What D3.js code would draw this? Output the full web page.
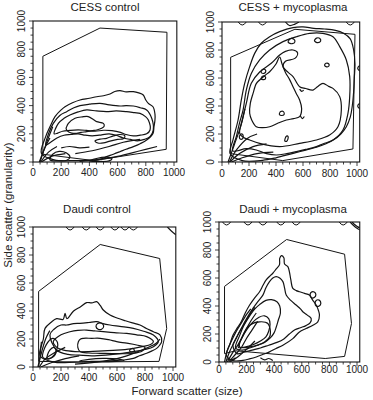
<!DOCTYPE html>
<html><head><meta charset="utf-8">
<script src="https://cdn.jsdelivr.net/npm/d3@7"></script>
<style>body{margin:0;background:#fff}svg{display:block}</style>
</head><body>
<svg id="c" width="373" height="400"></svg>
<script>
// ---------- data ----------
const titles = ["CESS control", "CESS + mycoplasma", "Daudi control", "Daudi + mycoplasma"];
const xTicks = [0, 200, 400, 600, 800, 1000];
const yTicks = [0, 200, 400, 600, 800, 1000];
const minorTicks = d3.range(0, 1001, 50);
const xLabel = "Forward scatter (size)";
const yLabel = "Side scatter (granularity)";

// gates (polygons, data units)
const gateCessControl = [[70,750],[475,950],[950,920],[945,90],[430,10],[70,55]];
const gateCessMyco    = [[64,748],[540,948],[985,912],[970,93],[450,10],[64,60]];
const gateDaudiControl= [[40,540],[480,875],[905,775],[955,275],[900,40],[360,35],[40,40]];
const gateDaudiMyco   = [[40,540],[490,875],[910,770],[960,275],[910,40],[770,25],[120,80],[40,60]];

// closed contours
const contoursCessControl = [
  [[60,60],[90,180],[121,251],[156,322],[200,370],[227,392],[280,420],[333,440],[400,452],[452,463],[500,470],[546,482],[580,500],[617,506],[660,498],[712,499],[750,490],[782,475],[800,440],[818,416],[851,392],[865,340],[865,298],[858,250],[851,203],[806,156],[760,130],[712,109],[660,90],[617,73],[570,55],[522,38],[470,18],[300,10],[150,15]],
  [[90,120],[110,200],[144,274],[190,330],[239,357],[290,385],[333,400],[400,410],[475,416],[540,405],[617,397],[660,400],[712,397],[760,385],[806,369],[842,310],[853,227],[830,180],[790,160],[740,150],[690,160],[640,170],[590,190],[540,200],[470,190],[420,185],[370,190],[320,200],[270,195],[220,190],[170,170],[125,140]],
  [[150,200],[180,274],[220,310],[262,333],[320,355],[381,369],[450,362],[520,357],[590,362],[664,357],[720,350],[759,345],[800,320],[818,298],[830,227],[806,200],[760,190],[712,185],[660,195],[620,210],[560,222],[500,225],[440,218],[380,224],[320,228],[260,224],[210,218],[175,205]],
  [[239,251],[251,274],[298,310],[350,320],[392,322],[430,300],[452,286],[499,274],[505,255],[487,239],[452,227],[420,222],[381,215],[340,210],[310,203],[275,205],[251,215],[235,235]],
  [[440,150],[475,162],[522,168],[570,185],[617,195],[652,185],[640,165],[600,160],[546,148],[500,135],[460,135]],
  [[120,15],[140,55],[185,75],[235,65],[262,35],[240,12],[180,8]],
  [[400,8],[450,25],[520,35],[560,25],[540,8],[470,4]]
];
const linesCessControl = [
  [[45,0],[80,90],[120,170]],
  [[55,0],[110,70],[170,110]],
  [[60,0],[130,40],[230,60]],
  [[50,0],[90,120],[140,250]],
  [[200,100],[260,110],[330,100],[400,105]],
  [[300,60],[420,80],[540,110],[640,140],[760,160]],
  [[330,5],[450,15],[600,40],[760,80],[880,110]]
];

const contoursCessMyco = [
  [[60,60],[81,157],[119,300],[143,443],[168,562],[205,681],[242,776],[291,848],[353,895],[427,931],[526,960],[600,965],[680,955],[760,950],[840,940],[900,920],[950,880],[975,800],[985,700],[980,600],[975,500],[965,400],[950,320],[920,250],[880,200],[830,160],[770,130],[700,105],[620,85],[540,65],[460,45],[400,30],[300,12],[150,10]],
  [[80,80],[106,181],[130,280],[156,371],[180,514],[217,633],[279,729],[353,800],[452,860],[551,895],[649,919],[748,919],[822,895],[872,824],[921,729],[946,610],[946,467],[933,348],[896,229],[822,157],[750,130],[699,110],[620,90],[551,74],[480,60],[402,50],[330,60],[254,86],[180,95]],
  [[131,205],[150,300],[180,419],[217,562],[279,643],[365,705],[427,764],[470,790],[526,800],[560,780],[540,740],[470,720],[452,681],[490,640],[526,610],[575,538],[620,525],[674,514],[710,540],[748,562],[790,540],[822,526],[872,467],[884,371],[859,252],[797,193],[699,157],[575,133],[427,110],[279,133],[205,157],[160,175]],
  [[230,490],[254,560],[279,586],[320,620],[353,645],[400,700],[427,750],[445,700],[470,640],[500,590],[526,538],[550,490],[575,443],[590,380],[575,324],[530,310],[477,300],[420,280],[353,252],[300,245],[254,252],[220,300],[205,348],[210,420]],
  [[490,855],[505,880],[530,878],[540,858],[520,845]],
  [[685,865],[700,885],[725,882],[730,862],[710,852]],
  [[760,690],[770,705],[790,702],[792,686],[775,680]],
  [[290,640],[300,660],[320,660],[322,640],[305,632]],
  [[290,595],[300,612],[320,610],[320,592],[305,588]],
  [[425,340],[435,360],[455,360],[460,340],[442,332]],
  [[130,170],[135,195],[152,198],[156,172],[142,162]],
  [[465,150],[478,185],[490,180],[480,148]]
];
const linesCessMyco = [
  [[45,0],[90,120],[140,260],[170,380]],
  [[55,0],[110,90],[190,170],[260,200]],
  [[60,0],[130,60],[230,110],[330,130]],
  [[70,0],[150,30],[260,60],[380,70]],
  [[575,520],[590,505],[605,512]],
  [[580,330],[595,310],[610,325]],
  [[470,1000],[500,975],[540,985],[570,1000]],
  [[1020,690],[1005,670],[1020,650]],
  [[1020,420],[1005,400],[1020,380]]
];

const contoursDaudiControl = [
  [[50,80],[74,200],[86,276],[130,320],[169,345],[215,340],[229,383],[242,345],[290,400],[340,430],[383,460],[420,458],[455,467],[480,440],[502,407],[550,371],[600,350],[660,330],[710,315],[764,300],[810,275],[860,252],[907,229],[919,181],[900,150],[883,133],[850,115],[812,98],[760,80],[717,62],[650,50],[580,45],[500,40],[420,40],[300,35],[150,35]],
  [[121,229],[150,270],[200,300],[240,300],[290,310],[336,312],[400,318],[455,324],[500,310],[550,300],[620,290],[717,276],[790,255],[860,229],[895,181],[860,145],[800,125],[717,110],[620,95],[520,85],[420,80],[330,85],[250,90],[170,120]],
  [[145,181],[200,230],[264,252],[320,262],[383,264],[440,258],[502,252],[580,245],[669,240],[740,230],[812,217],[860,181],[840,160],[780,145],[700,130],[600,120],[500,115],[400,110],[300,110],[220,120],[170,140]],
  [[324,181],[340,200],[360,205],[420,205],[479,205],[540,195],[598,181],[670,170],[740,157],[800,140],[780,115],[717,98],[600,95],[479,98],[400,100],[336,110],[320,140]],
  [[450,290],[462,310],[490,312],[505,292],[490,270],[465,270]],
  [[690,115],[700,130],[720,128],[722,112],[705,106]],
  [[70,70],[95,160],[140,205],[175,175],[160,100],[115,60]],
  [[100,60],[120,120],[150,140],[165,110],[140,70]],
  [[330,42],[400,55],[500,62],[600,58],[650,45],[500,38]]
];
const linesDaudiControl = [
  [[35,0],[60,100],[90,200],[120,260]],
  [[45,0],[90,60],[150,100],[230,140]],
  [[55,0],[130,30],[230,60],[330,80]],
  [[40,0],[50,80],[60,180]],
  [[300,20],[450,35],[600,60],[750,110],[880,170],[907,200]],
  [[960,1000],[990,970],[1020,945]]
];

const contoursDaudiMyco = [
  [[53,48],[80,130],[101,191],[130,240],[161,287],[190,350],[222,407],[260,460],[294,502],[320,550],[342,586],[370,615],[390,634],[415,665],[438,694],[440,740],[452,760],[470,745],[475,700],[500,680],[511,640],[520,590],[535,526],[560,510],[583,502],[620,490],[655,478],[680,440],[704,407],[720,370],[728,335],[716,287],[680,263],[631,239],[583,215],[535,167],[463,120],[410,95],[366,72],[320,55],[270,36],[220,22],[173,12],[100,10]],
  [[101,120],[130,180],[161,239],[200,310],[246,383],[280,430],[318,478],[340,530],[366,574],[390,600],[414,610],[440,600],[463,574],[475,530],[487,478],[520,440],[559,407],[590,380],[607,359],[640,335],[668,311],[660,280],[630,260],[590,245],[550,230],[510,200],[470,165],[420,140],[360,120],[300,100],[240,85],[180,70],[130,60]],
  [[120,100],[150,190],[180,260],[222,330],[260,380],[294,410],[340,440],[380,445],[420,430],[440,400],[445,350],[430,300],[415,250],[400,210],[370,170],[330,140],[280,120],[222,100],[170,85]],
  [[140,105],[165,170],[200,230],[240,280],[290,320],[330,330],[360,310],[370,270],[360,220],[340,180],[300,150],[250,125],[200,110]],
  [[149,108],[173,191],[222,263],[294,287],[354,275],[371,191],[330,143],[222,108]],
  [[660,478],[668,498],[690,500],[702,480],[690,460],[668,460]],
  [[696,419],[704,440],[726,442],[738,420],[726,400],[704,400]]
];
const linesDaudiMyco = [
  [[40,0],[60,80],[90,150],[120,210],[150,260],[175,300],[200,340],[230,380]],
  [[50,0],[75,70],[110,140],[140,200],[170,250],[200,300],[230,350],[260,390]],
  [[60,0],[95,60],[135,120],[170,180],[200,240],[235,300],[270,350]],
  [[70,0],[115,50],[160,100],[200,170],[240,230],[280,290]],
  [[80,0],[140,40],[200,90],[260,150]],
  [[60,20],[90,15],[120,30]],
  [[300,30],[330,15],[360,25],[390,10]],
  [[950,1000],[975,975],[1000,955],[1020,945]],
  [[965,1000],[985,980],[1005,965],[1020,960]]
];

// small arcs hanging from the top edge (x positions)
const bumpsCessMyco = [150, 300, 950];
const bumpsDaudiControl = [265, 380, 480, 585, 657, 717];
const bumpsDaudiMyco = [55, 210, 318, 448, 559, 900];

// ---------- layout (styles) ----------
const panels = [
  {title: titles[0], xr:[33,174], yr:[162,21], tx:105, ty:11, xlY:176, gate:gateCessControl, contours:contoursCessControl, lines:linesCessControl, bumps:[]},
  {title: titles[1], xr:[222,357], yr:[162,22], tx:293, ty:11, xlY:177, gate:gateCessMyco, contours:contoursCessMyco, lines:linesCessMyco, bumps:bumpsCessMyco},
  {title: titles[2], xr:[33,173], yr:[367,227], tx:97, ty:213, xlY:381, gate:gateDaudiControl, contours:contoursDaudiControl, lines:linesDaudiControl, bumps:bumpsDaudiControl},
  {title: titles[3], xr:[219,357], yr:[362,222], tx:293, ty:213, xlY:373, gate:gateDaudiMyco, contours:contoursDaudiMyco, lines:linesDaudiMyco, bumps:bumpsDaudiMyco}
];

const svg = d3.select("#c");
const ink = "#141414";
const font = "Liberation Sans, Arial, Helvetica, sans-serif";

panels.forEach(p => {
  const x = d3.scaleLinear().domain([0,1000]).range(p.xr);
  const y = d3.scaleLinear().domain([0,1000]).range(p.yr);
  const g = svg.append("g");

  // frame
  g.append("rect")
    .attr("x", x(0)).attr("y", y(1000))
    .attr("width", x(1020)-x(0)).attr("height", y(0)-y(1000))
    .attr("fill","none").attr("stroke", ink).attr("stroke-width",1.1);

  // axes
  const xa = g.append("g").attr("transform",`translate(0,${y(0)})`);
  xa.selectAll("line.mn").data(minorTicks).join("line")
    .attr("x1", d=>x(d)).attr("x2", d=>x(d)).attr("y1",0).attr("y2", d=> d%200===0?4:2.5)
    .attr("stroke", ink).attr("stroke-width",0.8);
  xa.selectAll("text").data(xTicks).join("text")
    .attr("x", d=>x(d)).attr("y", p.xlY - y(0))
    .attr("text-anchor","middle").attr("font-family",font).attr("font-size",10).attr("fill","#222")
    .text(d=>d);

  const ya = g.append("g").attr("transform",`translate(${x(0)},0)`);
  ya.selectAll("line.mn").data(minorTicks).join("line")
    .attr("y1", d=>y(d)).attr("y2", d=>y(d)).attr("x1",0).attr("x2", d=> d%200===0?-4:-2.5)
    .attr("stroke", ink).attr("stroke-width",0.8);
  ya.selectAll("text").data(yTicks).join("text")
    .attr("transform", d=>`translate(-8,${y(d)}) rotate(-90)`)
    .attr("text-anchor","middle").attr("font-family",font).attr("font-size",10).attr("fill","#222")
    .text(d=>d);

  // clip
  const cid = "clip" + p.xr[0] + p.yr[0];
  svg.append("clipPath").attr("id", cid).append("rect")
    .attr("x", x(0)).attr("y", y(1000)).attr("width", x(1020)-x(0)).attr("height", y(0)-y(1000));
  const plot = g.append("g").attr("clip-path", `url(#${cid})`);

  // gate
  plot.append("path")
    .attr("d", d3.line().x(d=>x(d[0])).y(d=>y(d[1])).curve(d3.curveLinearClosed)(p.gate))
    .attr("fill","none").attr("stroke", ink).attr("stroke-width",1);

  // contours
  const closed = d3.line().x(d=>x(d[0])).y(d=>y(d[1])).curve(d3.curveCatmullRomClosed.alpha(0.5));
  plot.selectAll("path.ct").data(p.contours).join("path")
    .attr("d", closed).attr("fill","none").attr("stroke", ink).attr("stroke-width",1.2);
  const open = d3.line().x(d=>x(d[0])).y(d=>y(d[1])).curve(d3.curveCatmullRom.alpha(0.5));
  plot.selectAll("path.ln").data(p.lines).join("path")
    .attr("d", open).attr("fill","none").attr("stroke", ink).attr("stroke-width",1.2);

  // top bumps (shallow arcs hanging from the top edge)
  plot.selectAll("path.bp").data(p.bumps).join("path")
    .attr("d", d => { const pa = d3.path(); pa.moveTo(x(d)-4, y(1000)); pa.quadraticCurveTo(x(d), y(1000)+6, x(d)+4, y(1000)); return pa.toString(); })
    .attr("fill","none").attr("stroke", ink).attr("stroke-width",1);

  // title
  g.append("text").attr("x", p.tx).attr("y", p.ty)
    .attr("text-anchor","middle").attr("font-family",font).attr("font-size",11.5).attr("fill","#222")
    .text(p.title);
});

svg.append("text").attr("x",187).attr("y",395).attr("text-anchor","middle")
  .attr("font-family",font).attr("font-size",11.5).attr("fill","#222").text(xLabel);
svg.append("text").attr("transform","translate(12,205) rotate(-90)").attr("text-anchor","middle")
  .attr("font-family",font).attr("font-size",11.5).attr("fill","#222").text(yLabel);
</script>
</body></html>
